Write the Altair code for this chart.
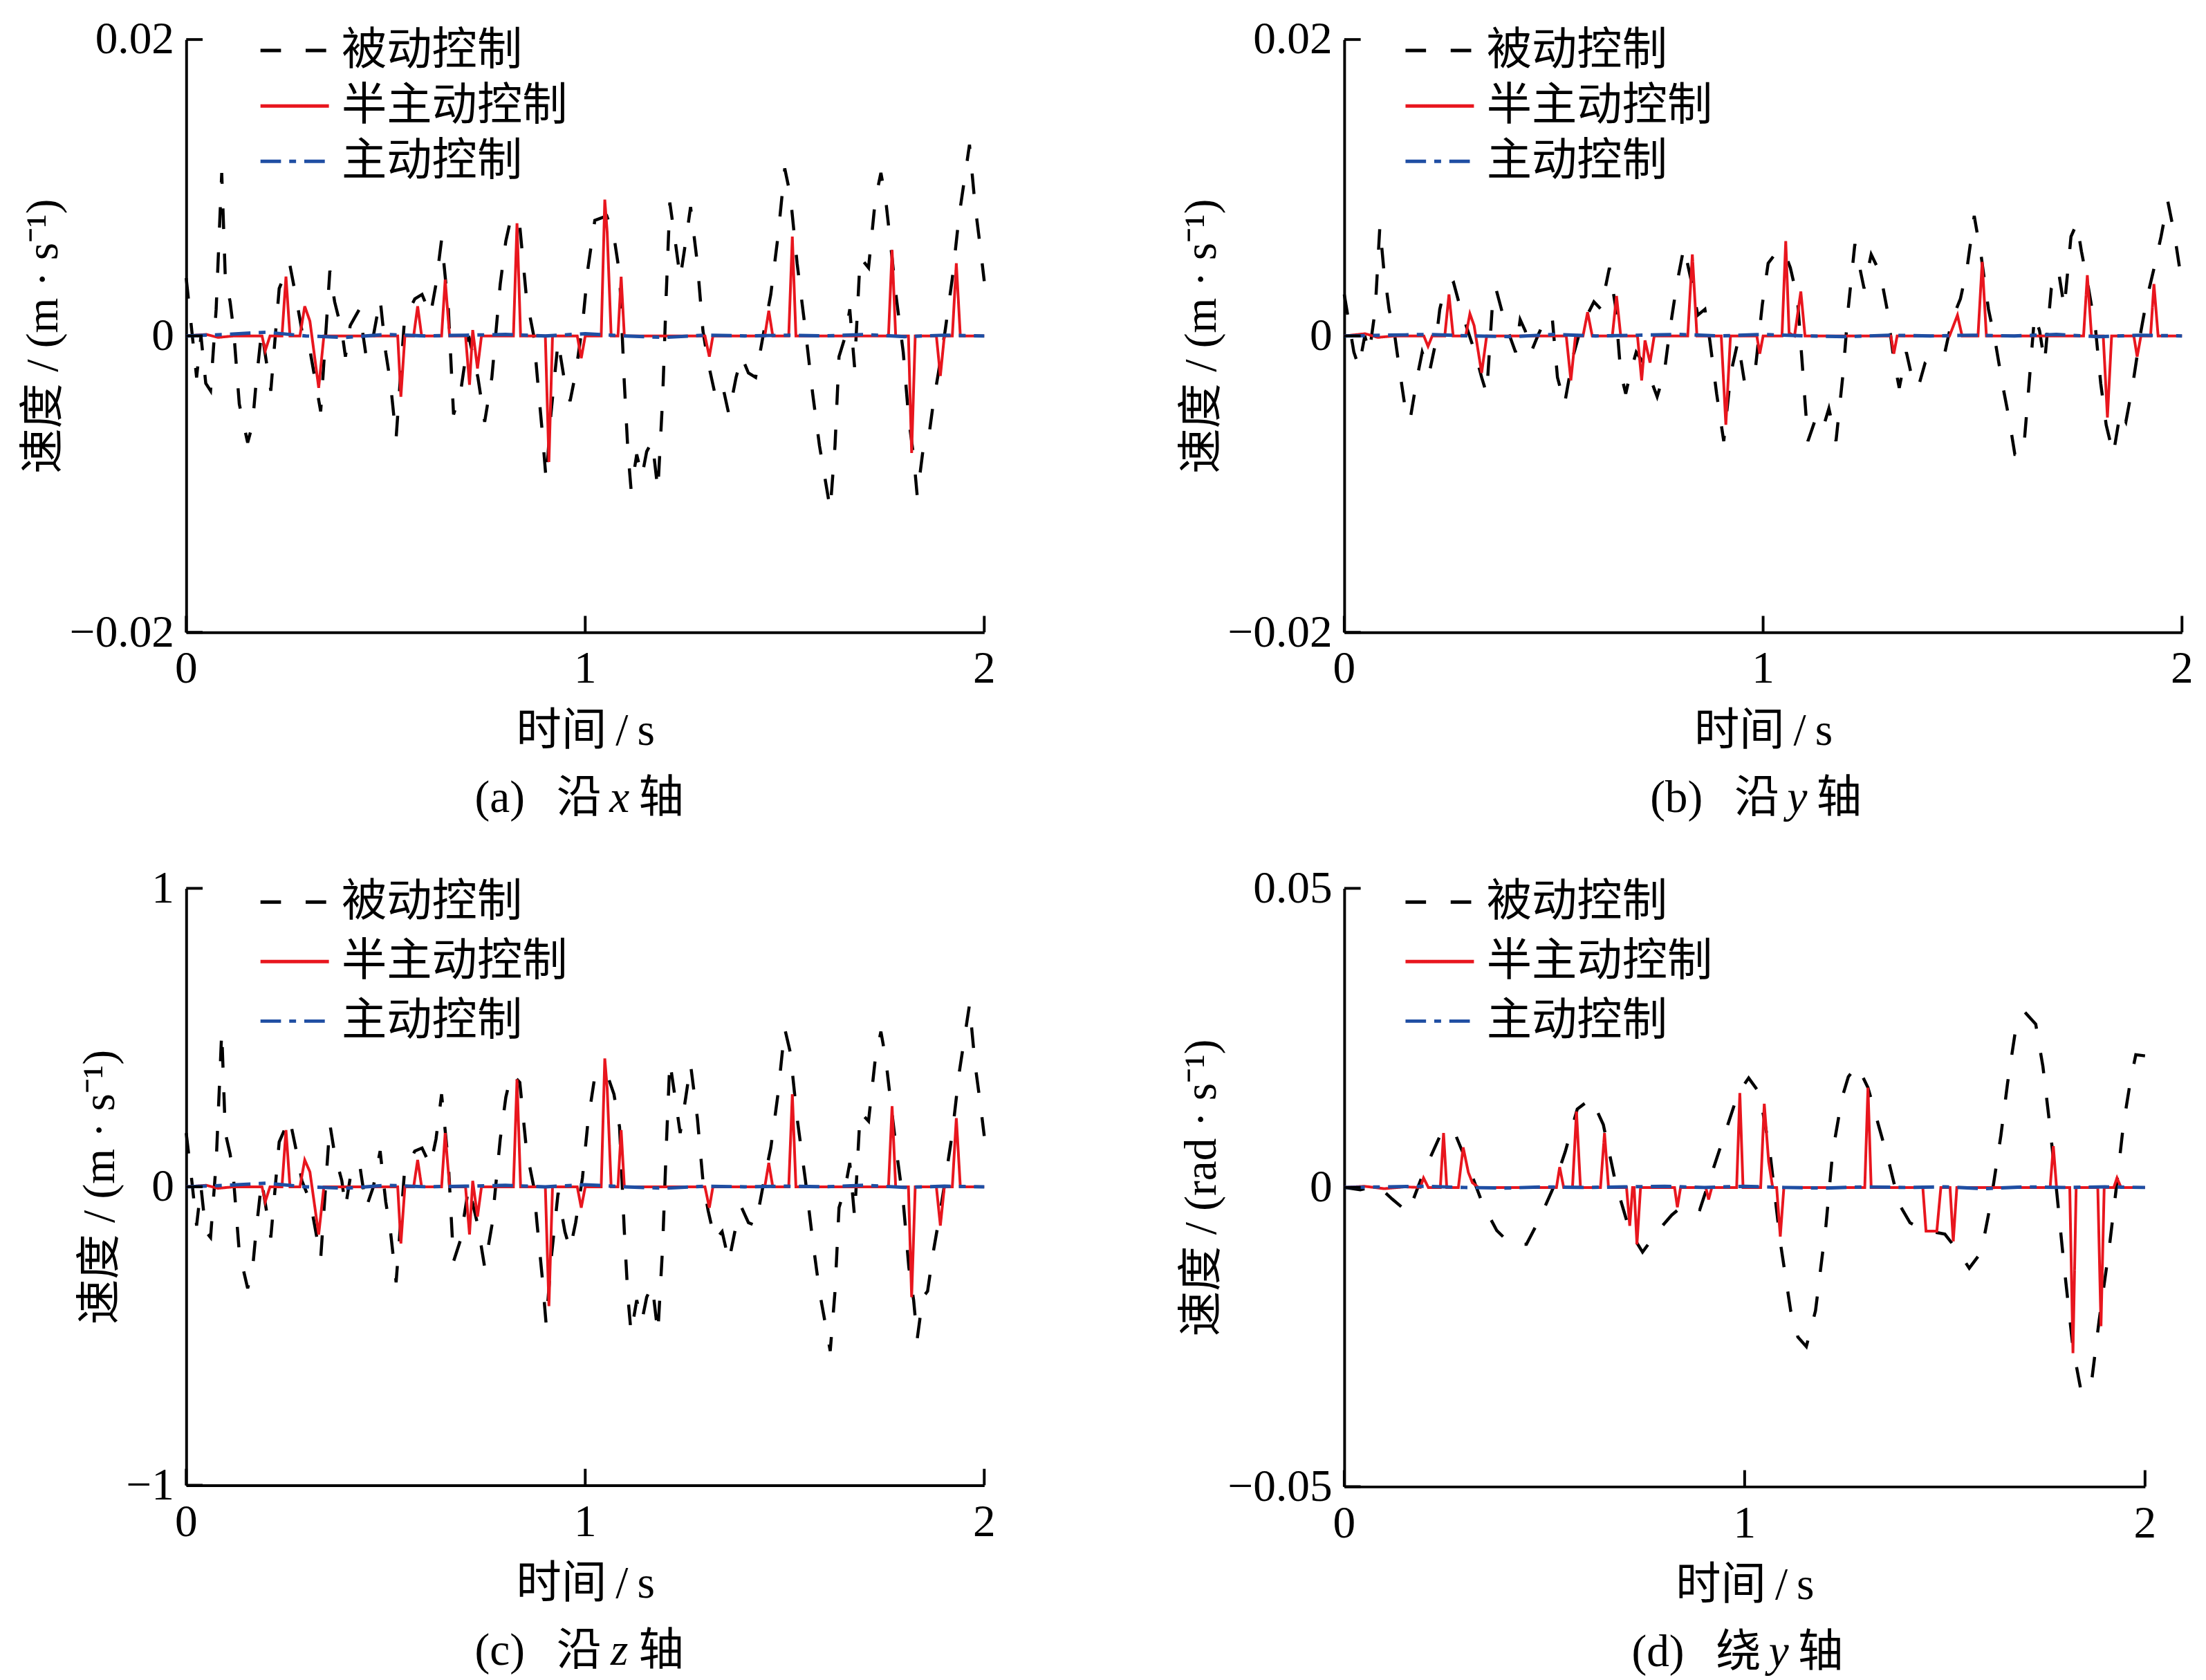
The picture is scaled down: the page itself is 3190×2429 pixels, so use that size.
import altair as alt
import pandas as pd

FONT = "Liberation Serif, Noto Sans CJK SC"
SERIES = ["被动控制", "半主动控制", "主动控制"]
COLORS = ["#000000", "#e8161e", "#1f4ea3"]
DASHES = [[30, 36], [1, 0], [30, 12, 10, 12]]
XTICKS = [0, 1, 2]
XLABELS = ["0", "1", "2"]

# ---------------- (a) along x ----------------
a_black_t = [0.000, 0.014, 0.026, 0.037, 0.049, 0.061, 0.075, 0.089, 0.098, 0.110,
             0.119, 0.133, 0.154, 0.166, 0.175, 0.189, 0.212, 0.233, 0.259, 0.276,
             0.290, 0.311, 0.337, 0.360, 0.372, 0.390, 0.399, 0.411, 0.434, 0.451,
             0.469, 0.486, 0.500, 0.512, 0.526, 0.547, 0.573, 0.591, 0.612, 0.626,
             0.640, 0.657, 0.670, 0.687, 0.708, 0.731, 0.748, 0.766, 0.787, 0.801,
             0.815, 0.836, 0.853, 0.871, 0.879, 0.892, 0.902, 0.914, 0.932, 0.949,
             0.962, 0.976, 0.993, 1.007, 1.024, 1.054, 1.072, 1.086, 1.098, 1.107,
             1.115, 1.129, 1.142, 1.154, 1.168, 1.182, 1.194, 1.203, 1.212, 1.224,
             1.238, 1.252, 1.264, 1.281, 1.295, 1.308, 1.325, 1.343, 1.360, 1.378,
             1.392, 1.409, 1.427, 1.448, 1.465, 1.483, 1.500, 1.514, 1.531, 1.552,
             1.570, 1.587, 1.614, 1.626, 1.636, 1.652, 1.663, 1.675, 1.689, 1.710,
             1.727, 1.741, 1.753, 1.766, 1.780, 1.797, 1.811, 1.823, 1.832, 1.846,
             1.858, 1.872, 1.885, 1.902, 1.920, 1.937, 1.963, 1.977, 1.990, 2.000]
a_black_v = [0.0039, 0.00035, -0.0028, 0.0, -0.0032, -0.0037, 0.0018, 0.0110, 0.0039, 0.0023,
             0.00035, -0.0046, -0.0072, -0.0060, -0.0032, 0.00035, -0.0037, 0.0032, 0.0049, 0.0025,
             0.00035, -0.0011, -0.0051, 0.0044, 0.0023, 0.00035, -0.0014, 0.0007, 0.0018, -0.0014,
             0.0, 0.0025, -0.0011, -0.0032, -0.0069, 0.0011, 0.0025, 0.0028, 0.0014, 0.0035,
             0.0065, 0.0018, -0.0053, -0.0039, 0.0, -0.0028, -0.0058, -0.0028, 0.0035, 0.0064,
             0.0081, 0.0074, 0.0025, 0.0, -0.0025, -0.0064, -0.0097, -0.0053, -0.00035, -0.0032,
             -0.0044, -0.0025, 0.0007, 0.0046, 0.0078, 0.0081, 0.0067, 0.0042, -0.0032, -0.0078,
             -0.0104, -0.0080, -0.0095, -0.0078, -0.0071, -0.0104, -0.0042, 0.0028, 0.0090, 0.0067,
             0.0039, 0.0064, 0.0087, 0.0049, 0.00035, -0.0018, -0.0039, -0.0032, -0.0053, -0.0028,
             -0.0014, -0.0025, -0.0028, 0.00035, 0.0028, 0.0067, 0.0113, 0.0095, 0.0049, 0.00035,
             -0.0039, -0.0074, -0.0117, -0.0074, -0.0014, 0.0, 0.0018, -0.0021, 0.0053, 0.0046,
             0.0092, 0.0110, 0.0092, 0.0060, 0.0025, -0.0011, -0.0057, -0.0081, -0.0108, -0.0078,
             -0.0074, -0.0046, -0.0025, 0.00035, 0.0039, 0.0081, 0.0129, 0.0088, 0.0060, 0.0037]
a_red_t = [0, 0.05, 0.08, 0.12, 0.19, 0.198, 0.21, 0.24, 0.25, 0.26,
           0.285, 0.297, 0.31, 0.332, 0.345, 0.53, 0.538, 0.548, 0.57, 0.58,
           0.59, 0.64, 0.649, 0.66, 0.70, 0.71, 0.718, 0.73, 0.74, 0.82,
           0.829, 0.838, 0.90, 0.909, 0.918, 0.98, 0.99, 1.0, 1.04, 1.049,
           1.055, 1.065, 1.082, 1.09, 1.098, 1.30, 1.311, 1.32, 1.45, 1.46,
           1.47, 1.51, 1.519, 1.528, 1.76, 1.769, 1.778, 1.81, 1.818, 1.827,
           1.88, 1.89, 1.90, 1.92, 1.93, 1.94, 2.0]
a_red_v = [0, 0.0001, -0.0001, 0, 0, -0.0010, 0, 0, 0.0040, 0,
           0, 0.0020, 0.0010, -0.0035, 0, 0, -0.0041, 0, 0, 0.0020,
           0, 0, 0.0038, 0, 0, -0.0033, 0.0004, -0.0022, 0, 0,
           0.0076, 0, 0, -0.0085, 0, 0, -0.0015, 0, 0, 0.0092,
           0.0070, 0, 0, 0.0040, 0, 0, -0.0014, 0, 0, 0.0017,
           0, 0, 0.0067, 0, 0, 0.0058, 0, 0, -0.0079, 0,
           0, -0.0027, 0, 0, 0.0049, 0, 0]
blue_t = [0.0, 0.1, 0.2, 0.3, 0.4, 0.5, 0.6, 0.7, 0.8, 0.9, 1.0,
          1.1, 1.2, 1.3, 1.4, 1.5, 1.6, 1.7, 1.8, 1.9, 2.0]
a_blue_v = [0.0, 0.0001, 0.00025, 0.0, -0.0001, 0.0001, 0.0, 0.00005, 0.0001, 0.0, 0.00015,
            0.0, -0.0001, 0.00005, 0.0, 0.00005, 0.0, 0.0001, -0.00005, 0.00005, 0.0]

# ---------------- (b) along y ----------------
b_black_t = [0.000, 0.010, 0.023, 0.035, 0.049, 0.060, 0.074, 0.085, 0.094, 0.107,
             0.119, 0.131, 0.144, 0.157, 0.174, 0.186, 0.203, 0.219, 0.228, 0.240,
             0.261, 0.278, 0.295, 0.312, 0.328, 0.340, 0.353, 0.362, 0.379, 0.395,
             0.409, 0.420, 0.432, 0.446, 0.462, 0.479, 0.496, 0.509, 0.526, 0.546,
             0.563, 0.580, 0.596, 0.613, 0.633, 0.647, 0.660, 0.672, 0.683, 0.697,
             0.714, 0.730, 0.747, 0.764, 0.777, 0.794, 0.811, 0.827, 0.844, 0.861,
             0.873, 0.889, 0.906, 0.923, 0.940, 0.956, 0.968, 0.982, 0.998, 1.012,
             1.028, 1.049, 1.065, 1.082, 1.095, 1.107, 1.124, 1.141, 1.157, 1.174,
             1.191, 1.203, 1.219, 1.241, 1.258, 1.280, 1.296, 1.313, 1.325, 1.342,
             1.353, 1.370, 1.387, 1.409, 1.434, 1.451, 1.471, 1.487, 1.504, 1.521,
             1.538, 1.554, 1.571, 1.588, 1.601, 1.621, 1.635, 1.648, 1.660, 1.672,
             1.688, 1.705, 1.719, 1.735, 1.749, 1.760, 1.777, 1.794, 1.806, 1.819,
             1.836, 1.853, 1.866, 1.883, 1.900, 1.916, 1.936, 1.950, 1.966, 1.983,
             2.000]
b_black_v = [0.0028, 0.0011, -0.0011, -0.0021, 0.0, -0.0011, 0.0018, 0.0074, 0.0046, 0.0018,
             0.00035, -0.0021, -0.0046, -0.0057, -0.0028, -0.0011, -0.0025, -0.00035, 0.0018, 0.0032,
             0.0036, 0.0018, 0.00035, -0.0011, -0.0028, -0.0039, 0.0018, 0.0032, 0.0014, 0.0,
             -0.0011, 0.0011, 0.00035, -0.0011, 0.0, 0.0011, 0.0014, -0.0028, -0.0046, -0.0014,
             0.00035, 0.0014, 0.0023, 0.0018, 0.0046, 0.0021, -0.0025, -0.0039, -0.0025, -0.0011,
             -0.0018, -0.0028, -0.0041, -0.0025, 0.00035, 0.0035, 0.0060, 0.0039, 0.0014, 0.0018,
             -0.00035, -0.0039, -0.0071, -0.0025, -0.00035, -0.0032, -0.0028, -0.0021, 0.0021, 0.0049,
             0.0055, 0.0058, 0.0046, 0.0025, -0.0025, -0.0071, -0.0057, -0.0064, -0.0049, -0.0071,
             -0.0025, 0.0018, 0.0062, 0.0032, 0.0055, 0.0042, 0.0018, -0.0018, -0.0035, -0.0011,
             -0.0025, -0.0035, -0.0018, -0.0011, -0.0011, 0.0011, 0.0025, 0.0046, 0.0081, 0.0053,
             0.0018, -0.00035, -0.0032, -0.0057, -0.0080, -0.0080, -0.0032, 0.0014, 0.00035, -0.0018,
             0.0032, 0.0044, 0.0019, 0.0067, 0.0076, 0.0057, 0.0032, 0.00035, -0.0032, -0.0060,
             -0.0080, -0.0051, -0.0058, -0.0032, 0.0, 0.0025, 0.0049, 0.0067, 0.0091, 0.0067,
             0.0035]
b_red_t = [0, 0.05, 0.08, 0.12, 0.19, 0.2, 0.21, 0.24, 0.25, 0.26,
           0.29, 0.3, 0.31, 0.328, 0.34, 0.53, 0.541, 0.552, 0.57, 0.581,
           0.592, 0.64, 0.65, 0.66, 0.70, 0.71, 0.718, 0.73, 0.74, 0.82,
           0.831, 0.842, 0.90, 0.911, 0.922, 0.985, 0.992, 1.0, 1.045, 1.054,
           1.062, 1.075, 1.09, 1.10, 1.305, 1.312, 1.32, 1.445, 1.464, 1.475,
           1.513, 1.523, 1.533, 1.765, 1.774, 1.784, 1.812, 1.822, 1.832, 1.885,
           1.893, 1.902, 1.925, 1.933, 1.943, 2.0]
b_red_v = [0, 0.00015, -0.0001, 0, 0, -0.0007, 0, 0, 0.0028, 0,
           0, 0.0015, 0.0007, -0.0025, 0, 0, -0.0030, 0, 0, 0.0016,
           0, 0, 0.0027, 0, 0, -0.0030, -0.0003, -0.0018, 0, 0,
           0.0055, 0, 0, -0.0060, 0, 0, -0.0012, 0, 0, 0.0064,
           0.0002, 0, 0.0030, 0, 0, -0.0012, 0, 0, 0.0014, 0,
           0, 0.0050, 0, 0, 0.0041, 0, 0, -0.0055, 0, 0,
           -0.0014, 0, 0, 0.0035, 0, 0]
b_blue_v = [0.0, 0.00005, 0.0001, 0.0, -0.00005, 0.0001, 0.0, 0.00005, 0.0001, 0.0, 0.0001,
            0.0, -0.00005, 0.00005, 0.0, 0.00005, 0.0, 0.0001, -0.00005, 0.00005, 0.0]

# ---------------- (c) along z ----------------
c_black_t = a_black_t
c_black_v = [0.18, 0.02, -0.13, 0.0, -0.15, -0.17, 0.08, 0.52, 0.18, 0.11,
             0.02, -0.22, -0.34, -0.28, -0.15, 0.02, -0.17, 0.15, 0.23, 0.12,
             0.02, -0.05, -0.24, 0.21, 0.11, 0.02, -0.07, 0.03, 0.08, -0.07,
             0.0, 0.12, -0.05, -0.15, -0.32, 0.05, 0.12, 0.13, 0.07, 0.16,
             0.31, 0.08, -0.25, -0.18, 0.0, -0.13, -0.27, -0.13, 0.16, 0.30,
             0.38, 0.35, 0.12, 0.0, -0.12, -0.30, -0.46, -0.25, -0.02, -0.15,
             -0.21, -0.12, 0.03, 0.22, 0.37, 0.38, 0.31, 0.20, -0.15, -0.37,
             -0.49, -0.38, -0.45, -0.37, -0.33, -0.49, -0.20, 0.13, 0.42, 0.31,
             0.18, 0.30, 0.41, 0.23, 0.02, -0.08, -0.18, -0.15, -0.25, -0.13,
             -0.07, -0.12, -0.13, 0.02, 0.13, 0.31, 0.53, 0.45, 0.23, 0.02,
             -0.18, -0.35, -0.55, -0.35, -0.07, 0.0, 0.08, -0.10, 0.25, 0.22,
             0.43, 0.52, 0.43, 0.28, 0.12, -0.05, -0.27, -0.38, -0.51, -0.37,
             -0.35, -0.22, -0.12, 0.02, 0.18, 0.38, 0.61, 0.41, 0.28, 0.17]
c_red_t = a_red_t
c_red_v = [0, 0.005, -0.005, 0, 0, -0.05, 0, 0, 0.19, 0,
           0, 0.09, 0.05, -0.16, 0, 0, -0.19, 0, 0, 0.09,
           0, 0, 0.18, 0, 0, -0.16, 0.02, -0.10, 0, 0,
           0.36, 0, 0, -0.40, 0, 0, -0.07, 0, 0, 0.43,
           0.33, 0, 0, 0.19, 0, 0, -0.07, 0, 0, 0.08,
           0, 0, 0.31, 0, 0, 0.27, 0, 0, -0.37, 0,
           0, -0.13, 0, 0, 0.23, 0, 0]
c_blue_v = [0.0, 0.005, 0.012, 0.0, -0.005, 0.005, 0.0, 0.002, 0.005, 0.0, 0.007,
            0.0, -0.005, 0.002, 0.0, 0.002, 0.0, 0.005, -0.002, 0.002, 0.0]

# ---------------- (d) about y ----------------
d_black_t = [0.000, 0.040, 0.084, 0.119, 0.160, 0.198, 0.241, 0.273, 0.311, 0.346,
             0.381, 0.416, 0.455, 0.486, 0.521, 0.552, 0.582, 0.617, 0.647, 0.678,
             0.713, 0.745, 0.783, 0.818, 0.850, 0.888, 0.923, 0.958, 0.984, 1.010,
             1.037, 1.063, 1.089, 1.115, 1.133, 1.154, 1.177, 1.203, 1.220, 1.243,
             1.259, 1.281, 1.308, 1.334, 1.360, 1.386, 1.413, 1.448, 1.500, 1.535,
             1.561, 1.591, 1.614, 1.640, 1.657, 1.675, 1.700, 1.727, 1.745, 1.762,
             1.780, 1.797, 1.820, 1.841, 1.867, 1.885, 1.911, 1.928, 1.946, 1.963,
             1.977, 2.000]
d_black_v = [0.0, -0.0004, 0.0003, -0.0019, -0.0042, 0.0025, 0.0089, 0.0096, 0.0034, -0.0028,
             -0.0072, -0.0095, -0.0095, -0.0055, -0.0002, 0.0060, 0.0131, 0.0149, 0.0105, 0.0007,
             -0.0073, -0.0108, -0.0073, -0.0046, -0.0028, -0.0037, 0.0034, 0.0105, 0.0158, 0.0183,
             0.0158, 0.0060, -0.0091, -0.0206, -0.0250, -0.0266, -0.0206, -0.0064, 0.0060, 0.0149,
             0.0185, 0.0204, 0.0167, 0.0105, 0.0043, -0.0028, -0.0059, -0.0071, -0.0078, -0.0108,
             -0.0135, -0.0108, -0.0028, 0.0087, 0.0176, 0.0256, 0.0293, 0.0273, 0.0202, 0.0105,
             -0.0011, -0.0126, -0.0268, -0.0343, -0.0322, -0.0224, -0.0099, -0.0002, 0.0105, 0.0176,
             0.0222, 0.0220]
d_red_t = [0, 0.05, 0.10, 0.15, 0.19, 0.198, 0.21, 0.24, 0.248, 0.256,
           0.285, 0.297, 0.31, 0.32, 0.335, 0.53, 0.538, 0.548, 0.57, 0.58,
           0.59, 0.64, 0.65, 0.66, 0.705, 0.713, 0.72, 0.724, 0.731, 0.74,
           0.825, 0.832, 0.84, 0.903, 0.91, 0.918, 0.98, 0.988, 0.996, 1.04,
           1.049, 1.06, 1.07, 1.08, 1.089, 1.098, 1.30, 1.308, 1.316, 1.445,
           1.453, 1.48, 1.49, 1.513, 1.521, 1.53, 1.763, 1.771, 1.779, 1.812,
           1.82, 1.828, 1.882, 1.89, 1.898, 1.922, 1.93, 1.94, 2.0]
d_red_v = [0, 0.0002, -0.0002, 0.0001, 0, 0.0016, 0, 0, 0.0091, 0,
           0, 0.0067, 0.0025, 0.0008, 0, 0, 0.0034, 0, 0, 0.0127,
           0, 0, 0.0091, 0, 0, -0.0064, 0, 0, -0.0095, 0,
           0, -0.0033, 0, 0, -0.0020, 0, 0, 0.0158, 0, 0,
           0.0140, 0.0043, 0, 0, -0.0082, 0, 0, 0.0167, 0, 0,
           -0.0073, -0.0073, 0, 0, -0.0090, 0, 0, 0.0069, 0, 0,
           -0.0277, 0, 0, -0.0232, 0, 0, 0.0016, 0, 0]
d_blue_v = [0.0, 0.0001, 0.0002, 0.0, -0.0001, 0.0001, 0.0, 0.0001, 0.0002, 0.0, 0.0002,
            0.0, -0.0001, 0.0001, 0.0, 0.0001, -0.0002, 0.0001, 0.0, 0.0001, 0.0]

FS = 66


def panel(W, H, bt, bv, rt, rv, ut, uv, ylim, yticks, yfmt, ytitle,
          tag, prep, var, leg_x, leg_y, leg_pad):
    x_enc = alt.X("t:Q", scale=alt.Scale(domain=[0, 2], nice=False, zero=False),
                  axis=alt.Axis(values=XTICKS, labels=False, title="时间\u2009/\u2009s",
                                titlePadding=112))
    label_expr = ("datum.value == 0 ? '0' : (datum.value < 0 ? '\u2212' : '') + "
                  "format(abs(datum.value), '%s')" % yfmt)
    y_enc = alt.Y("v:Q", scale=alt.Scale(domain=ylim, nice=False, zero=False),
                  axis=alt.Axis(values=yticks, labelExpr=label_expr, title=ytitle,
                                labelPadding=18, titlePadding=4, labelOverlap=False,
                                labelFlush=False))
    leg = alt.Legend(title=None, orient="none", legendX=leg_x, legendY=leg_y,
                     symbolType="stroke", symbolSize=10000, symbolStrokeWidth=5,
                     labelFont=FONT, labelFontSize=FS, labelColor="black",
                     labelOffset=16, rowPadding=leg_pad, clipHeight=70,
                     labelLimit=800, padding=0)
    color = alt.Color("series:N", scale=alt.Scale(domain=SERIES, range=COLORS), legend=leg)
    dash = alt.StrokeDash("series:N", scale=alt.Scale(domain=SERIES, range=DASHES), legend=leg)

    def line(t, v, name, sw):
        df = pd.DataFrame({"t": t, "v": v, "series": name})
        return alt.Chart(df).mark_line(strokeWidth=sw).encode(
            x=x_enc, y=y_enc, color=color, strokeDash=dash)

    black = line(bt, bv, SERIES[0], 4.5)
    red = line(rt, rv, SERIES[1], 4)
    blue = line(ut, uv, SERIES[2], 5)

    xt = alt.Chart(pd.DataFrame({"t": XTICKS})).mark_rule(color="black", strokeWidth=4).encode(
        x=x_enc, y=alt.value(H), y2=alt.value(H - 24))
    yt = alt.Chart(pd.DataFrame({"v": yticks})).mark_rule(color="black", strokeWidth=4).encode(
        y=y_enc, x=alt.value(0), x2=alt.value(24))
    xl = alt.Chart(pd.DataFrame({"t": XTICKS, "lab": XLABELS})).mark_text(
        baseline="middle", align="center", fontSize=FS, font=FONT, color="black").encode(
        x=x_enc, y=alt.value(H + 54), text="lab:N")

    def txt(s, xpos, align, style):
        return alt.Chart(pd.DataFrame({"s": [s]})).mark_text(
            align=align, baseline="middle", fontSize=FS, font=FONT,
            fontStyle=style, color="black").encode(
            x=alt.value(xpos), y=alt.value(H + 242), text="s:N")

    cap1 = txt("(" + tag + ")\u2002\u2009" + prep, W / 2 + 24, "right", "normal")
    cap2 = txt(var, W / 2 + 50, "center", "italic")
    cap3 = txt("轴", W / 2 + 78, "left", "normal")

    return alt.layer(black, red, blue, xt, yt, xl, cap1, cap2, cap3).properties(width=W, height=H)


pa = panel(1166, 866, a_black_t, a_black_v, a_red_t, a_red_v, blue_t, a_blue_v,
           [-0.02, 0.02], [-0.02, 0, 0.02], ".2f", "速度 / (m · s⁻¹)",
           "a", "沿", "x", 106, -19, 11)
pb = panel(1224, 866, b_black_t, b_black_v, b_red_t, b_red_v, blue_t, b_blue_v,
           [-0.02, 0.02], [-0.02, 0, 0.02], ".2f", "速度 / (m · s⁻¹)",
           "b", "沿", "y", 87, -19, 11)
pc = panel(1166, 872, c_black_t, c_black_v, c_red_t, c_red_v, blue_t, c_blue_v,
           [-1, 1], [-1, 0, 1], "d", "速度 / (m · s⁻¹)",
           "c", "沿", "z", 106, -15, 17)
pd_ = panel(1170, 874, d_black_t, d_black_v, d_red_t, d_red_v, blue_t, d_blue_v,
            [-0.05, 0.05], [-0.05, 0, 0.05], ".2f", "速度 / (rad · s⁻¹)",
            "d", "绕", "y", 87, -15, 17)

chart = alt.concat(pa, pb, pc, pd_, columns=2,
                   spacing={"row": 374, "column": 526}, bounds="flush").resolve_scale(
    color="independent", strokeDash="independent").properties(
    padding={"left": 22, "top": 4, "right": 10, "bottom": 10}
).configure(font=FONT).configure_view(stroke=None).configure_axis(
    labelFont=FONT, labelFontSize=FS, labelColor="black",
    titleFont=FONT, titleFontSize=FS, titleFontWeight="normal", titleColor="black",
    domainColor="black", domainWidth=4, ticks=False, grid=False)

chart.save("out.html", embed_options={"renderer": "svg", "actions": False})
